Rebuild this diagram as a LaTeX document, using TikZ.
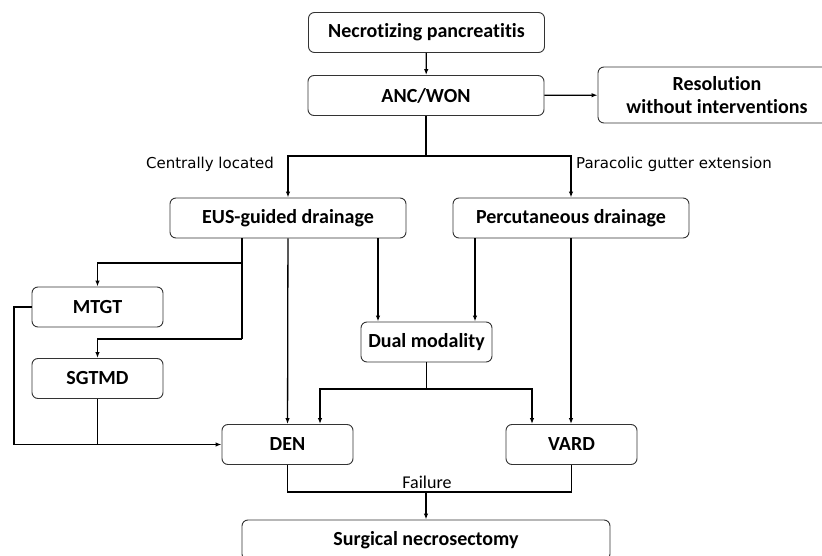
\documentclass[tikz,border=0pt]{standalone}
\usepackage{fontspec}
\setmainfont{Carlito}[Ligatures=NoCommon]
\newfontfamily\lblfont{DejaVu Sans}
\usepackage{tikz}
\usetikzlibrary{arrows.meta}

\begin{document}
\begin{tikzpicture}[
  x=1pt, y=-1pt, line width=1.3pt,
  box/.style={draw=black!80, line width=0.9pt, rounded corners=6pt, align=center,
    font=\fontsize{20}{23}\selectfont\bfseries, inner sep=0pt},
  wide/.style={box, minimum width=236pt, minimum height=40pt},
  small/.style={box, minimum width=131pt, minimum height=40pt},
  lbl/.style={font=\lblfont\fontsize{15}{18}\selectfont, inner sep=0pt},
  arr/.style={-{Latex[length=6pt,width=4.5pt]}}
]
\clip (0,0) rectangle (822,556);

\node[wide] (necro) at (426.5,32.5) {Necrotizing pancreatitis};
\node[wide] (anc) at (426,95.5) {ANC/WON};
\node[box, minimum width=238pt, minimum height=56pt] (resol) at (717,95) {Resolution\\without interventions};
\node[wide] (eus) at (288,218) {EUS-guided drainage};
\node[wide] (perc) at (571,218) {Percutaneous drainage};
\node[small] (mtgt) at (97.5,307) {MTGT};
\node[small] (sgtmd) at (97.5,378.5) {SGTMD};
\node[small] (dual) at (426.5,342) {Dual modality};
\node[small] (den) at (287.5,444.5) {DEN};
\node[small] (vard) at (571.5,444.5) {VARD};
\node[box, minimum width=368pt, minimum height=40pt] (surg) at (426,540) {Surgical necrosectomy};

\node[lbl] (central) at (210,164) {Centrally located};
\node[lbl] (paracolic) at (674,164) {Paracolic gutter extension};
\node[font=\fontsize{18}{20}\selectfont, inner sep=0pt] (fail) at (427,482) {Failure};

\coordinate (split) at (426,156);
\coordinate (e1) at (242,263);
\coordinate (e2) at (242,339);
\coordinate (m1) at (14,444.5);
\coordinate (d1) at (426.5,389);
\coordinate (f) at (426,492);

\draw[arr] (necro) -- (anc);
\draw[arr] (anc) -- (resol);
\draw (anc) -- (split);
\draw[arr] (split) -| (eus);
\draw[arr] (split) -| (perc);

% EUS branches
\draw (eus.south -| e1) -- (e2);
\draw[arr] (e1) -| (mtgt);
\draw[arr] (e2) -| (sgtmd);
\draw[arr] (eus) -- (den);
\draw[arr] ([xshift=90pt]eus.south) -- ([xshift=90pt]eus.south |- dual.north);

% percutaneous branches
\draw[arr] ([xshift=-96pt]perc.south) -- ([xshift=-96pt]perc.south |- dual.north);
\draw[arr] (perc.south) -- (perc.south |- vard.north);

\draw[arr] (mtgt.west) -| (m1) -- (den.west);
\draw (sgtmd.south) -- (sgtmd.south |- den.west);

\draw (dual) -- (d1);
\draw[arr] (d1) -| ([xshift=32.5pt]den.north);
\draw[arr] (d1) -| ([xshift=-39.5pt]vard.north);

\draw (den.south) |- (f) -| (vard.south);
\draw[arr] (f) -- (surg);
\end{tikzpicture}
\end{document}
